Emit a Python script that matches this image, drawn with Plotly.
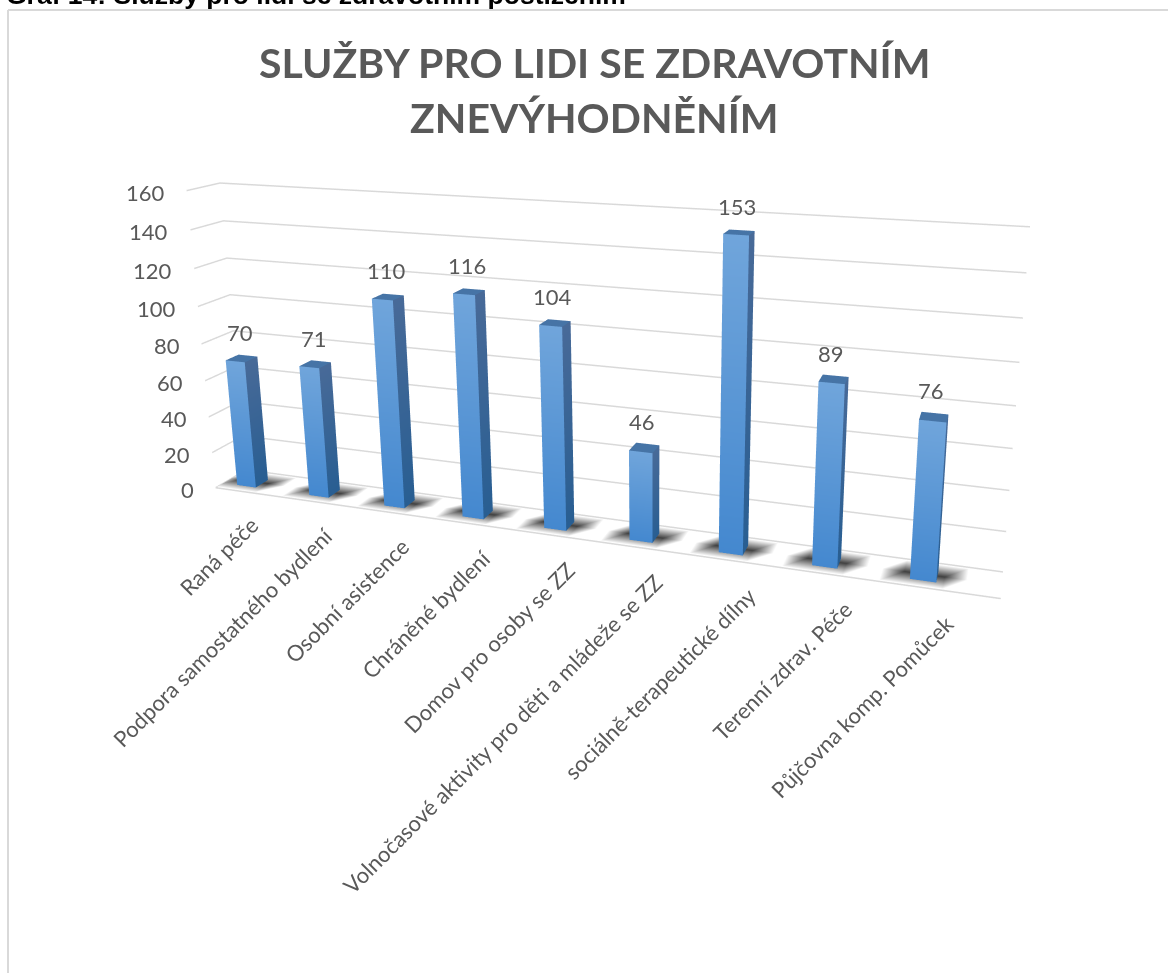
import plotly.graph_objects as go

categories = ["Raná péče", "Podpora samostatného bydlení", "Osobní asistence", "Chráněné bydlení",
              "Domov pro osoby se ZZ", "Volnočasové aktivity pro děti a mládeže se ZZ",
              "sociálně-terapeutické dílny", "Terenní zdrav. Péče", "Půjčovna komp. Pomůcek"]
values = [70, 71, 110, 116, 104, 46, 153, 89, 76]
z_ticks = [0, 20, 40, 60, 80, 100, 120, 140, 160]
title_lines = ["SLUŽBY PRO LIDI SE ZDRAVOTNÍM", "ZNEVÝHODNĚNÍM"]
caption = "Graf 14: Služby pro lidi se zdravotním postižením"

TXT = "#595959"
GRID = "#d9d9d9"
FRONT_T, FRONT_B = "rgb(112,165,219)", "rgb(68,136,207)"
SIDE_T, SIDE_B = "rgb(72,106,152)", "rgb(40,94,146)"
TOP = "rgb(70,116,166)"
HW, Y0, Y1 = 0.13, 0.25, 0.66
BAR_OFFSET, BAR_STEP = -0.175, 0.99
FLAT = dict(ambient=1, diffuse=0, specular=0, roughness=1, fresnel=0)

# The figure starts above the page top so the 3-D view centre falls where the
# reference chart's vanishing geometry needs it.
W, H, OFFSET = 1168, 1169, 196


def py(page_y):
    return 1 - (page_y + OFFSET) / H


def bar_x(i):
    return BAR_OFFSET + BAR_STEP * i


fig = go.Figure()

# floor shadows
for i in range(len(values)):
    cx = bar_x(i)
    xs = [cx - .42, cx - .2, cx + .2, cx + .42]
    ys = [0.05, .5, .95]
    vx, vy, vz, vc, a, b, c = [], [], [], [], [], [], []
    for r, y in enumerate(ys):
        for k, x in enumerate(xs):
            vx.append(x); vy.append(y); vz.append(0)
            vc.append("rgb(65,65,65)" if r == 1 and k in (1, 2) else "rgb(255,255,255)")
    for r in range(2):
        for k in range(3):
            p = r * 4 + k
            a += [p, p]; b += [p + 1, p + 5]; c += [p + 5, p + 4]
    fig.add_trace(go.Mesh3d(x=vx, y=vy, z=vz, i=a, j=b, k=c, vertexcolor=vc, lighting=FLAT,
                            hoverinfo="skip", showscale=False))

# floor front edge
fig.add_trace(go.Scatter3d(x=[-.5, 8.5], y=[0, 0], z=[0, 0], mode="lines",
                           line=dict(color=GRID, width=3), hoverinfo="skip", showlegend=False))

# bars
for i, v in enumerate(values):
    x0, x1 = bar_x(i) - HW, bar_x(i) + HW
    vx = [x0, x1, x1, x0, x1, x1, x1, x1, x0, x1, x1, x0]
    vy = [Y0, Y0, Y0, Y0, Y0, Y1, Y1, Y0, Y0, Y0, Y1, Y1]
    vz = [0, 0, v, v, 0, 0, v, v, v, v, v, v]
    vc = [FRONT_B, FRONT_B, FRONT_T, FRONT_T, SIDE_B, SIDE_B, SIDE_T, SIDE_T, TOP, TOP, TOP, TOP]
    fig.add_trace(go.Mesh3d(x=vx, y=vy, z=vz,
                            i=[0, 0, 4, 4, 8, 8], j=[1, 2, 5, 6, 9, 10], k=[2, 3, 6, 7, 10, 11],
                            vertexcolor=vc, lighting=FLAT, hoverinfo="skip", showscale=False))

hidden = dict(showgrid=False, zeroline=False, showticklabels=False, showbackground=False,
              showspikes=False, showline=False, ticks="", title="")

scene_ann = []
for t in z_ticks:
    scene_ann.append(dict(x=-.5, y=0, z=t, text=str(t), showarrow=False, xanchor="right", yanchor="middle",
                          xshift=-20, yshift=-2, font=dict(family="Lato", size=22, color=TXT)))
for i, v in enumerate(values):
    scene_ann.append(dict(x=bar_x(i), y=.5, z=v, text=str(v), showarrow=False, xanchor="center", yanchor="bottom",
                          xshift=-3, yshift=10, font=dict(family="Lato", size=22, color=TXT)))
for i, c in enumerate(categories):
    scene_ann.append(dict(x=i, y=0, z=0, text=c, showarrow=False, xanchor="right", yanchor="top",
                          textangle=-45, xshift=14, yshift=-16, font=dict(family="Lato", size=22, color=TXT)))

fig.update_layout(
    width=W, height=H, margin=dict(l=0, r=0, t=0, b=0), showlegend=False,
    paper_bgcolor="white",
    scene=dict(
        domain=dict(x=[144 / W, 1], y=[169 / H, 1]),
        aspectmode="manual", aspectratio=dict(x=2, y=.13, z=.791),
        xaxis=dict(range=[-.5, 8.5], **hidden),
        yaxis=dict(range=[0, 1], **hidden),
        zaxis=dict(range=[0, 160], showgrid=True, gridcolor=GRID, gridwidth=3, dtick=20, zeroline=False,
                   showticklabels=False, showbackground=False, showspikes=False, showline=False, ticks="", title=""),
        camera=dict(eye=dict(x=1.0043, y=-2.5427, z=.8676), center=dict(x=.1691, y=.0958, z=.1567),
                    up=dict(x=0, y=0, z=1), projection=dict(type="perspective")),
        annotations=scene_ann,
    ),
    annotations=[
        dict(xref="paper", yref="paper", x=594 / W, y=py(62), text="<b>" + title_lines[0] + "</b>", showarrow=False,
             xanchor="center", yanchor="middle", font=dict(family="Lato", size=41, color=TXT)),
        dict(xref="paper", yref="paper", x=594 / W, y=py(117), text="<b>" + title_lines[1] + "</b>", showarrow=False,
             xanchor="center", yanchor="middle", font=dict(family="Lato", size=41, color=TXT)),
        dict(xref="paper", yref="paper", x=4 / W, y=py(-5), text="<b>" + caption + "</b>", showarrow=False,
             xanchor="left", yanchor="middle", font=dict(family="Liberation Sans", size=26.5, color="black")),
    ],
    shapes=[
        dict(type="line", xref="paper", yref="paper", x0=8 / W, x1=1, y0=py(10), y1=py(10),
             line=dict(color=GRID, width=2)),
        dict(type="line", xref="paper", yref="paper", x0=8 / W, x1=8 / W, y0=0, y1=py(10),
             line=dict(color=GRID, width=2)),
    ],
)

fig.write_html("out.html", post_script="document.body.style.margin='-196px 0 0 0';")
